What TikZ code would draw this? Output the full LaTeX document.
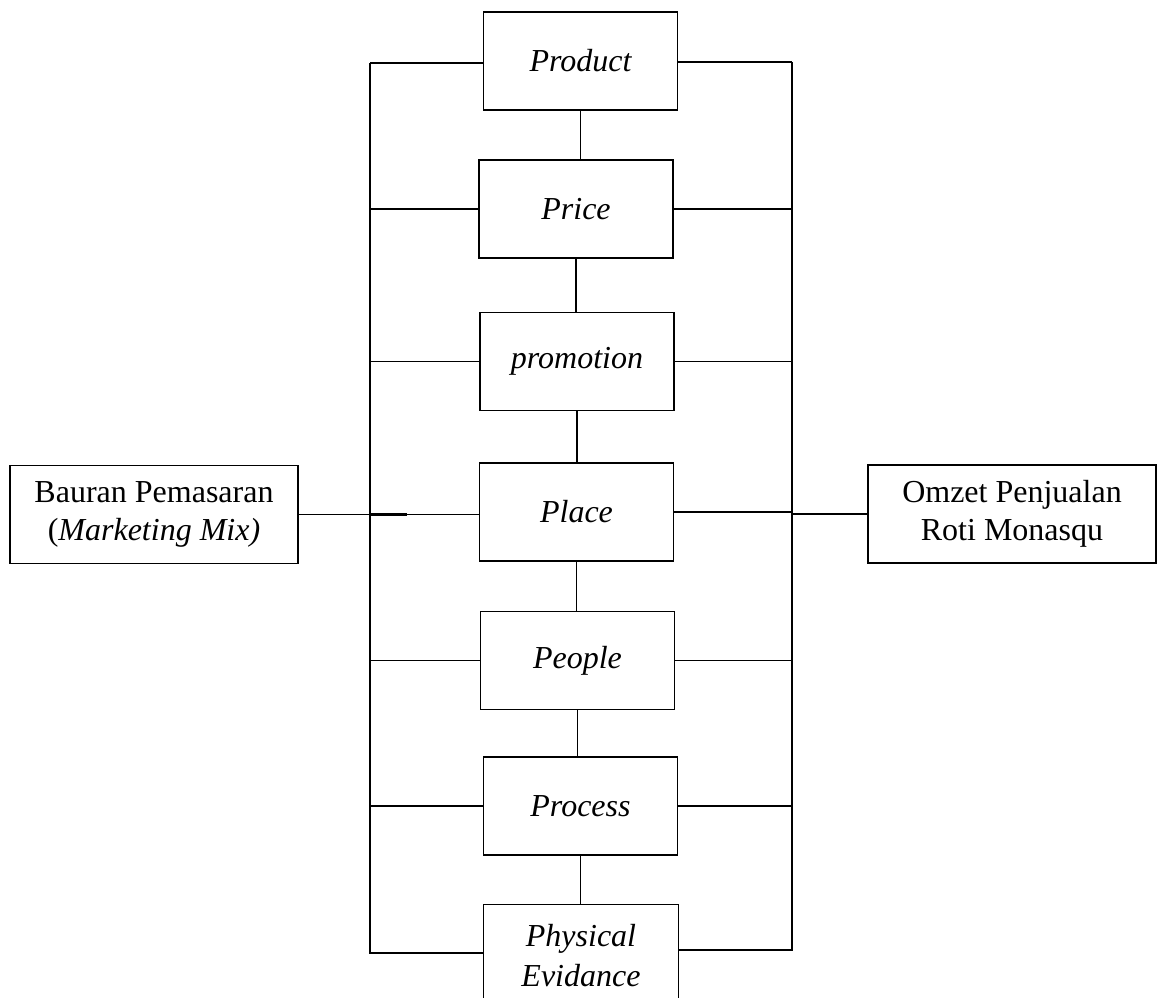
\documentclass[tikz,border=0pt]{standalone}
\usepackage{fontspec}
\setmainfont{Liberation Serif}
\begin{document}
\begin{tikzpicture}[x=1pt,y=-1pt,line width=1.4pt,
  box/.style={draw, line width=1.4pt, inner sep=0pt, minimum width=194pt, minimum height=98pt, align=center, font=\fontsize{32}{39}\selectfont\itshape},
  sidebox/.style={draw, line width=1.4pt, inner sep=0pt, minimum width=288pt, minimum height=98pt, align=center, font=\fontsize{32}{38}\selectfont},
  link/.style={line width=1.4pt}]
\useasboundingbox (0,0) rectangle (1159,998);
% central boxes
\node[box] (product) at (580.5,61) {Product};
\node[box] (price) at (576,209) {Price};
\node[box] (promo) at (577,361.5) {promotion};
\node[box] (place) at (576.5,512) {Place};
\node[box] (people) at (577.5,660.5) {People};
\node[box] (process) at (580.5,806) {Process};
\node[inner sep=0pt, minimum width=194pt, minimum height=110pt] (peframe) at (581,960) {};
\draw[link] (peframe.south west) -- (peframe.north west) -- (peframe.north east) -- (peframe.south east);
\node[inner sep=0pt, align=center, font=\fontsize{32}{40}\selectfont\itshape] (pe) at (581,956) {Physical\\Evidance};
% side boxes
\node[sidebox] (bm) at (154,514.5) {Bauran Pemasaran\\(\textit{Marketing Mix)}};
\node[sidebox] (om) at (1012,514) {Omzet Penjualan\\Roti Monasqu};
% bus lines
\coordinate (Ltop) at (370,63);
\coordinate (Lbot) at (370,868);
\coordinate (Rtop) at (792,62);
\coordinate (Rbot) at (792,865);
\draw[link] (Ltop) -- (Lbot);
\draw[link] (Rtop) -- (Rbot);
% vertical chain
\draw[link] (product.south) -- (product.south |- price.north);
\draw[link] (price.south) -- (price.south |- promo.north);
\draw[link] (promo.south) -- (promo.south |- place.north);
\draw[link] (place.south) -- (place.south |- people.north);
\draw[link] (people.south) -- (people.south |- process.north);
\draw[link] (process.south) -- (process.south |- peframe.north);
% left branches
\draw[link] (Ltop) -- (product.west |- Ltop);
\draw[link] (Ltop |- price.west) -- (price.west);
\draw[link] (Ltop |- promo.west) -- (promo.west);
\draw[link] (Ltop |- people.west) -- (people.west);
\draw[link] (Ltop |- process.west) -- (process.west);
\coordinate (peL) at (370,953);
\draw[link] (Lbot) -- (370,953) -- (peframe.west |- peL);
% right branches
\draw[link] (product.east |- Rtop) -- (Rtop);
\draw[link] (price.east) -- (Rtop |- price.east);
\draw[link] (promo.east) -- (Rtop |- promo.east);
\draw[link] (place.east) -- (Rtop |- place.east);
\draw[link] (people.east) -- (Rtop |- people.east);
\draw[link] (process.east) -- (Rtop |- process.east);
\coordinate (peR) at (792,950);
\draw[link] (Rbot) -- (peR) -- (peframe.east |- peR);
% side connectors
\draw[link] (bm.east) -- (bm.east -| place.west);
\coordinate (tick) at (407,514.5);
\draw[line width=2.2pt] (Ltop |- tick) -- (tick);
\draw[link] (Rtop |- om.west) -- (om.west);
\end{tikzpicture}
\end{document}
